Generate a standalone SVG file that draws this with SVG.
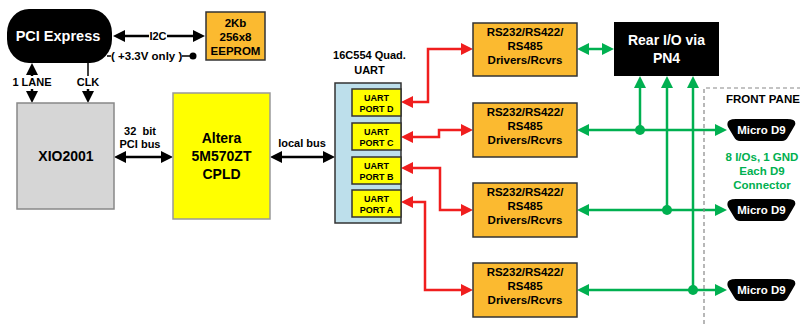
<svg xmlns="http://www.w3.org/2000/svg" width="800" height="324" viewBox="0 0 800 324">
<defs>
<style>
text{font-family:"Liberation Sans",Arial,sans-serif;font-weight:bold;text-anchor:middle}
.w{fill:#fff}
.t11{font-size:11px}
.t12{font-size:11.5px}
.t14{font-size:14px}
.t9{font-size:9px}
.drv{fill:#FBBA30;stroke:#333;stroke-width:1.5}
.port{fill:#FFFF00;stroke:#333;stroke-width:1.5}
.blk{fill:none;stroke:#000;stroke-width:2.5}
.red{fill:none;stroke:#F01E1E;stroke-width:2.5}
.grn{fill:none;stroke:#00B050;stroke-width:2.5}
.gtxt{fill:#00B050}
</style>
<marker id="ak" viewBox="0 0 12 12" refX="8" refY="6" markerWidth="12" markerHeight="12" markerUnits="userSpaceOnUse" orient="auto-start-reverse"><path d="M0,0 L12,6 L0,12 Z" fill="#000"/></marker>
<marker id="ar" viewBox="0 0 12 12" refX="8" refY="6" markerWidth="12" markerHeight="12" markerUnits="userSpaceOnUse" orient="auto-start-reverse"><path d="M0,0 L12,6 L0,12 Z" fill="#F01E1E"/></marker>
<marker id="ag" viewBox="0 0 12 12" refX="8" refY="6" markerWidth="12" markerHeight="12" markerUnits="userSpaceOnUse" orient="auto-start-reverse"><path d="M0,0 L12,6 L0,12 Z" fill="#00B050"/></marker>
<path id="d9" d="M9,0 H60 Q70,0 68,6 L61,18 Q59,22 55,22 H13 Q9,22 7,18 L1,8 Q-2,0 9,0 Z"/>
</defs>
<rect width="800" height="324" fill="#fff"/>

<g id="connectors">
<path class="blk" d="M149,36 H117" marker-end="url(#ak)"/>
<path class="blk" d="M167,36 H201" marker-end="url(#ak)"/>
<path d="M107,56 H111 M182,56 H193" fill="none" stroke="#000" stroke-width="1.5"/>
<circle cx="193" cy="56" r="3.5" fill="#000"/>
<path class="blk" d="M32,76 V67" marker-end="url(#ak)"/>
<path class="blk" d="M32,89 V99" marker-end="url(#ak)"/>
<path d="M88,62 V76" fill="none" stroke="#000" stroke-width="1.5"/>
<path class="blk" d="M88,89 V99" marker-end="url(#ak)"/>
<path class="blk" d="M118,157 H169" marker-start="url(#ak)" marker-end="url(#ak)"/>
<path class="blk" d="M274,157 H331" marker-start="url(#ak)" marker-end="url(#ak)"/>
<path class="red" d="M405,102 H428 V49 H469" marker-start="url(#ar)" marker-end="url(#ar)"/>
<path class="red" d="M405,137 H439 V130 H469" marker-start="url(#ar)" marker-end="url(#ar)"/>
<path class="red" d="M405,168 H440 V210 H469" marker-start="url(#ar)" marker-end="url(#ar)"/>
<path class="red" d="M405,202 H425 V290 H469" marker-start="url(#ar)" marker-end="url(#ar)"/>
<path class="grn" d="M581,49 H610" marker-start="url(#ag)" marker-end="url(#ag)"/>
<path class="grn" d="M640,80 V130" marker-start="url(#ag)"/>
<path class="grn" d="M667,80 V210" marker-start="url(#ag)"/>
<path class="grn" d="M693,80 V290" marker-start="url(#ag)"/>
<path class="grn" d="M581,130 H723" marker-start="url(#ag)" marker-end="url(#ag)"/>
<path class="grn" d="M581,210 H723" marker-start="url(#ag)" marker-end="url(#ag)"/>
<path class="grn" d="M581,290 H723" marker-start="url(#ag)" marker-end="url(#ag)"/>
<circle cx="640" cy="130" r="5" fill="#00B050"/>
<circle cx="667" cy="210" r="5" fill="#00B050"/>
<circle cx="693" cy="290" r="5" fill="#00B050"/>
<path d="M704,324 V88 H800" fill="none" stroke="#888" stroke-width="1.2" stroke-dasharray="4,3"/>
</g>

<g id="labels">
<text class="t11" x="158" y="40">I2C</text>
<text x="111" y="60" style="text-anchor:start;font-size:11.5px">( +3.3V only )</text>
<text class="t11" x="32" y="86">1 LANE</text>
<text class="t11" x="88" y="86">CLK</text>
<text class="t11" x="140" y="135" xml:space="preserve">32  bit</text>
<text class="t11" x="140" y="148">PCI bus</text>
<text class="t11" x="302" y="147">local bus</text>
<text class="t12" x="726" y="103" style="text-anchor:start">FRONT PANE</text>
<text class="t12 gtxt" x="762" y="161">8 I/Os, 1 GND</text>
<text class="t12 gtxt" x="762" y="175">Each D9</text>
<text class="t12 gtxt" x="762" y="189">Connector</text>
</g>

<g id="pci-express">
<rect x="7" y="9" width="105" height="54" rx="22" ry="24" fill="#000"/>
<text class="w" x="58" y="41" style="font-size:14.5px">PCI Express</text>
</g>

<g id="eeprom">
<rect x="206" y="12" width="59" height="48" fill="#FBBA30" stroke="#333" stroke-width="1.5"/>
<text class="t12" x="235.5" y="27">2Kb</text>
<text class="t12" x="235.5" y="41">256x8</text>
<text class="t12" x="235.5" y="55">EEPROM</text>
</g>

<g id="xio2001">
<rect x="17" y="103" width="97" height="106" fill="#D6D6D6" stroke="#888" stroke-width="1.5"/>
<text class="t14" x="66" y="161">XIO2001</text>
</g>

<g id="cpld">
<rect x="173" y="93" width="97" height="126" fill="#FFFF00" stroke="#999" stroke-width="1.5"/>
<text class="t14" x="221.5" y="143">Altera</text>
<text class="t14" x="221.5" y="161">5M570ZT</text>
<text class="t14" x="221.5" y="179">CPLD</text>
</g>

<g id="uart">
<text class="t11" x="369.5" y="59">16C554 Quad.</text>
<text class="t11" x="369.5" y="74">UART</text>
<rect x="335" y="83" width="66" height="140" fill="#BDDFEB" stroke="#333" stroke-width="1.5"/>
</g>
<g id="port-d">
<rect class="port" x="352" y="89" width="49" height="27"/>
<text class="t9" x="376.5" y="101">UART</text>
<text class="t9" x="376.5" y="112">PORT D</text>
</g>
<g id="port-c">
<rect class="port" x="352" y="123" width="49" height="27"/>
<text class="t9" x="376.5" y="135">UART</text>
<text class="t9" x="376.5" y="146">PORT C</text>
</g>
<g id="port-b">
<rect class="port" x="352" y="157" width="49" height="27"/>
<text class="t9" x="376.5" y="169">UART</text>
<text class="t9" x="376.5" y="180">PORT B</text>
</g>
<g id="port-a">
<rect class="port" x="352" y="190" width="49" height="27"/>
<text class="t9" x="376.5" y="202">UART</text>
<text class="t9" x="376.5" y="213">PORT A</text>
</g>

<g id="driver-1">
<rect class="drv" x="473" y="23" width="104" height="53"/>
<text class="t12" x="525" y="36">RS232/RS422/</text>
<text class="t12" x="525" y="50">RS485</text>
<text class="t12" x="525" y="64">Drivers/Rcvrs</text>
</g>
<g id="driver-2">
<rect class="drv" x="473" y="103" width="104" height="54"/>
<text class="t12" x="525" y="116">RS232/RS422/</text>
<text class="t12" x="525" y="130">RS485</text>
<text class="t12" x="525" y="144">Drivers/Rcvrs</text>
</g>
<g id="driver-3">
<rect class="drv" x="473" y="183" width="104" height="54"/>
<text class="t12" x="525" y="196">RS232/RS422/</text>
<text class="t12" x="525" y="210">RS485</text>
<text class="t12" x="525" y="224">Drivers/Rcvrs</text>
</g>
<g id="driver-4">
<rect class="drv" x="473" y="263" width="104" height="54"/>
<text class="t12" x="525" y="276">RS232/RS422/</text>
<text class="t12" x="525" y="290">RS485</text>
<text class="t12" x="525" y="304">Drivers/Rcvrs</text>
</g>

<g id="rear-io">
<rect x="614" y="22" width="105" height="54" fill="#000"/>
<text class="t14 w" x="666.5" y="45">Rear I/O via</text>
<text class="t14 w" x="666.5" y="63">PN4</text>
</g>

<g id="micro-d9-1">
<use href="#d9" x="727" y="119"/>
<text class="t12 w" x="761.5" y="134">Micro D9</text>
</g>
<g id="micro-d9-2">
<use href="#d9" x="727" y="199"/>
<text class="t12 w" x="761.5" y="214">Micro D9</text>
</g>
<g id="micro-d9-3">
<use href="#d9" x="727" y="279"/>
<text class="t12 w" x="761.5" y="294">Micro D9</text>
</g>
</svg>
